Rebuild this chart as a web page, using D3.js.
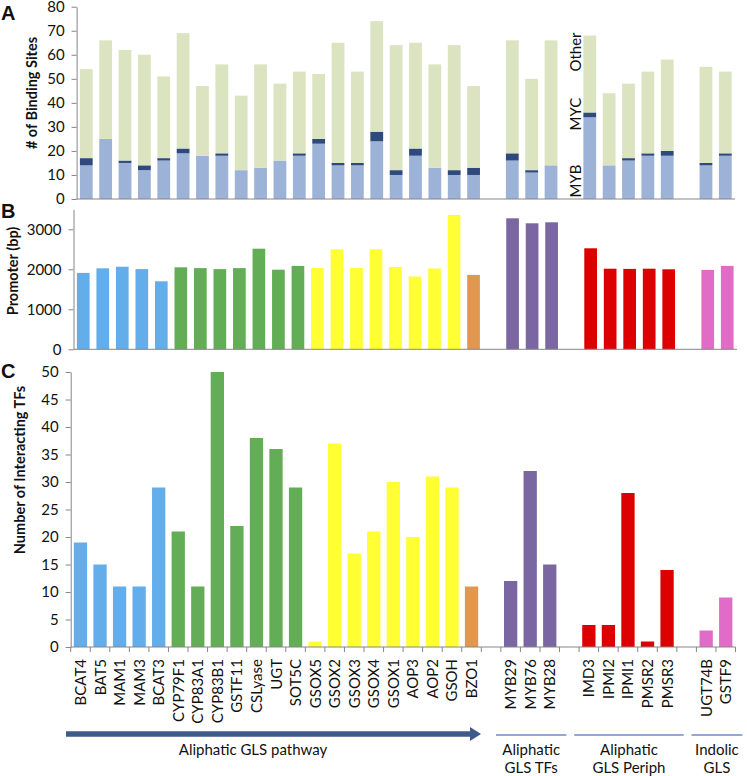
<!DOCTYPE html>
<html>
<head>
<meta charset="utf-8">
<script src="https://cdn.jsdelivr.net/npm/d3@7"></script>
<style>
  html, body { margin: 0; padding: 0; background: #fff; }
  svg { display: block; }
  text { font-family: "Lato", "Open Sans", sans-serif; fill: #111; }
</style>
</head>
<body>
<svg id="chart" width="747" height="776"></svg>
<script>
// ---------------- DATA ----------------
// slots: null marks an empty gap slot between gene groups
const categories = ["BCAT4","BAT5","MAM1","MAM3","BCAT3","CYP79F1","CYP83A1","CYP83B1","GSTF11","CSLyase","UGT","SOT5C","GSOX5","GSOX2","GSOX3","GSOX4","GSOX1","AOP3","AOP2","GSOH","BZO1",null,"MYB29","MYB76","MYB28",null,"IMD3","IPMI2","IPMI1","PMSR2","PMSR3",null,"UGT74B","GSTF9"];
const geneGroup = ["blue","blue","blue","blue","blue","green","green","green","green","green","green","green","yellow","yellow","yellow","yellow","yellow","yellow","yellow","yellow","orange",null,"purple","purple","purple",null,"red","red","red","red","red",null,"pink","pink"];

// Panel A: number of binding sites (stacked)
const sitesMYB   = [14,25,15,12,16,19,18,18,12,13,16,18,23,14,14,24,10,18,13,10,10,null,16,11,14,null,34,14,16,18,18,null,14,18];
const sitesMYC   = [3,0,1,2,1,2,0,1,0,0,0,1,2,1,1,4,2,3,0,2,3,null,3,1,0,null,2,0,1,1,2,null,1,1];
const sitesOther = [37,41,46,46,34,48,29,37,31,43,32,34,27,50,38,46,52,44,43,52,34,null,47,38,52,null,32,30,31,34,38,null,40,34];
const stackKeys = ["MYB","MYC","Other"];
const ticksA = [0,10,20,30,40,50,60,70,80];

// Panel B: promoter length (bp)
const promoter = [1910,2025,2065,2005,1700,2050,2030,2005,2030,2515,1990,2085,2030,2500,2030,2500,2060,1820,2020,3360,1860,null,3275,3150,3175,null,2525,2015,2010,2015,2000,null,1985,2085];
const ticksB = [0,1000,2000,3000];

// Panel C: number of interacting TFs
const interactingTFs = [19,15,11,11,29,21,11,50,22,38,36,29,1,37,17,21,30,20,31,29,11,null,12,32,15,null,4,4,28,1,14,null,3,9];
const ticksC = [0,5,10,15,20,25,30,35,40,45,50];

// Bottom group annotations
const groupLabels = [
  {lines:["Aliphatic GLS pathway"], from:0, to:20, arrow:true},
  {lines:["Aliphatic","GLS TFs"], from:22, to:24, arrow:false},
  {lines:["Aliphatic","GLS Periph"], from:26, to:30, arrow:false},
  {lines:["Indolic","GLS"], from:32, to:33, arrow:false}
];

// ---------------- STYLE ----------------
const groupColor = {blue:"#63aeea", green:"#63ad57", yellow:"#ffff33", orange:"#e0974f", purple:"#7a66a0", red:"#dc0000", pink:"#e06cc8"};
const stackColor = {MYB:"#9cb2d7", MYC:"#2e4a7c", Other:"#dce3c0"};
const axisColor = "#868686";

const svg = d3.select("#chart");
const idx = d3.range(categories.length);

function styleAxis(g) {
  g.selectAll("path").attr("stroke", axisColor).attr("stroke-width", 1);
  g.selectAll("line").attr("stroke", axisColor).attr("stroke-width", 1);
  g.selectAll("text").style("font-size", "15px").attr("fill", "#111");
}
function letter(t, y) {
  svg.append("text").attr("x", 1).attr("y", y).style("font-family", "Liberation Sans, Arial")
    .style("font-size", "20px").style("font-weight", "bold").text(t);
}

// ---------------- PANEL A ----------------
const xA = d3.scaleBand().domain(idx).range([76.6, 735]).paddingInner(0.34).paddingOuter(0.17);
const yA = d3.scaleLinear().domain([0, 80]).range([199, 6.7]);
const stackData = idx.filter(i => categories[i] !== null).map(i => ({i, MYB: sitesMYB[i], MYC: sitesMYC[i], Other: sitesOther[i]}));
const series = d3.stack().keys(stackKeys)(stackData);
const gA = svg.append("g");
gA.selectAll("g.layer").data(series).join("g").attr("fill", d => stackColor[d.key])
  .selectAll("rect").data(d => d).join("rect")
  .attr("x", d => xA(d.data.i)).attr("width", xA.bandwidth())
  .attr("y", d => yA(d[1])).attr("height", d => yA(d[0]) - yA(d[1]));
gA.append("g").attr("transform", "translate(76.6,0)")
  .call(d3.axisLeft(yA).tickValues(ticksA).tickSize(5).tickPadding(7).tickSizeOuter(0))
  .call(styleAxis);
gA.append("line").attr("x1", 76.6).attr("x2", 735).attr("y1", yA(0)).attr("y2", yA(0)).attr("stroke", axisColor);
gA.append("text").attr("transform", `translate(37,93) rotate(-90)`)
  .attr("text-anchor", "middle").style("font-size", "14.5px").style("font-weight", "bold").text("# of Binding Sites");
// stack labels
const labX = 581;
[["Other", 52],["MYC", 114],["MYB", 181]].forEach(([t, y]) => {
  gA.append("text").attr("transform", `translate(${labX},${y}) rotate(-90)`).attr("text-anchor", "middle")
    .style("font-size", "15px").text(t);
});
letter("A", 20);

// ---------------- PANEL B ----------------
const xB = d3.scaleBand().domain(idx).range([73.5, 737]).paddingInner(0.35).paddingOuter(0.175);
const yB = d3.scaleLinear().domain([0, 3500]).range([349.3, 209.3]);
const gB = svg.append("g");
gB.selectAll("rect").data(idx.filter(i => promoter[i] !== null)).join("rect")
  .attr("x", i => xB(i)).attr("width", xB.bandwidth())
  .attr("y", i => yB(promoter[i])).attr("height", i => yB(0) - yB(promoter[i]))
  .attr("fill", i => groupColor[geneGroup[i]]);
gB.append("g").attr("transform", "translate(73.5,0)")
  .call(d3.axisLeft(yB).tickValues(ticksB).tickFormat(d3.format("d")).tickSize(5).tickPadding(7).tickSizeOuter(0))
  .call(styleAxis);
gB.append("line").attr("x1", 73.5).attr("x2", 737).attr("y1", yB(0)).attr("y2", yB(0)).attr("stroke", axisColor);
gB.append("text").attr("transform", `translate(18,271) rotate(-90)`)
  .attr("text-anchor", "middle").style("font-size", "14.5px").style("font-weight", "bold").text("Promoter (bp)");
letter("B", 218);

// ---------------- PANEL C ----------------
const xC = d3.scaleBand().domain(idx).range([70.7, 735.5]).paddingInner(0.32).paddingOuter(0.16);
const yC = d3.scaleLinear().domain([0, 50]).range([647, 372]);
const gC = svg.append("g");
gC.selectAll("rect").data(idx.filter(i => interactingTFs[i] !== null)).join("rect")
  .attr("x", i => xC(i)).attr("width", xC.bandwidth())
  .attr("y", i => yC(interactingTFs[i])).attr("height", i => yC(0) - yC(interactingTFs[i]))
  .attr("fill", i => groupColor[geneGroup[i]]);
gC.append("g").attr("transform", "translate(70.7,0)")
  .call(d3.axisLeft(yC).tickValues(ticksC).tickSize(5).tickPadding(7).tickSizeOuter(0))
  .call(styleAxis);
// x axis with ticks at slot boundaries
const xAxisC = gC.append("g").attr("transform", `translate(0,${yC(0)})`);
xAxisC.append("line").attr("x1", 70.7).attr("x2", 735.5).attr("y1", 0).attr("y2", 0).attr("stroke", axisColor);
const step = xC.step();
xAxisC.selectAll("line.tk").data(d3.range(categories.length + 1)).join("line").attr("class", "tk")
  .attr("x1", k => 70.7 + k * step).attr("x2", k => 70.7 + k * step)
  .attr("y1", 0).attr("y2", 5).attr("stroke", axisColor);
xAxisC.selectAll("text").data(idx.filter(i => categories[i] !== null)).join("text")
  .attr("transform", i => `translate(${xC(i) + xC.bandwidth()/2 + 5.5},12) rotate(-90)`)
  .attr("text-anchor", "end").style("font-size", "15px").text(i => categories[i]);
gC.append("text").attr("transform", `translate(25,470) rotate(-90)`)
  .attr("text-anchor", "middle").style("font-size", "14.5px").style("font-weight", "bold").text("Number of Interacting TFs");
letter("C", 378);

// ---------------- GROUP ANNOTATIONS ----------------
const gG = svg.append("g");
groupLabels.forEach(g => {
  const x0 = xC(g.from), x1 = xC(g.to) + xC.bandwidth();
  if (g.arrow) {
    const ax0 = 66, ax1 = 481;
    gG.append("line").attr("x1", ax0).attr("x2", ax1 - 10).attr("y1", 734).attr("y2", 734)
      .attr("stroke", "#3d5a8a").attr("stroke-width", 5.5);
    gG.append("path").attr("d", `M${ax1-11},727 L${ax1},734 L${ax1-11},741 Z`).attr("fill", "#3d5a8a");
    gG.append("text").attr("x", 253).attr("y", 755).attr("text-anchor", "middle")
      .style("font-size", "15px").text(g.lines[0]);
  } else {
    const lx0 = x0 - 8, lx1 = Math.min(x1 + 10, 747);
    gG.append("line").attr("x1", lx0).attr("x2", lx1).attr("y1", 735).attr("y2", 735)
      .attr("stroke", "#6f8cc4").attr("stroke-width", 1.5);
    g.lines.forEach((t, k) => {
      gG.append("text").attr("x", (lx0 + lx1)/2).attr("y", 755 + k * 18).attr("text-anchor", "middle")
        .style("font-size", "15px").text(t);
    });
  }
});
</script>
</body>
</html>
